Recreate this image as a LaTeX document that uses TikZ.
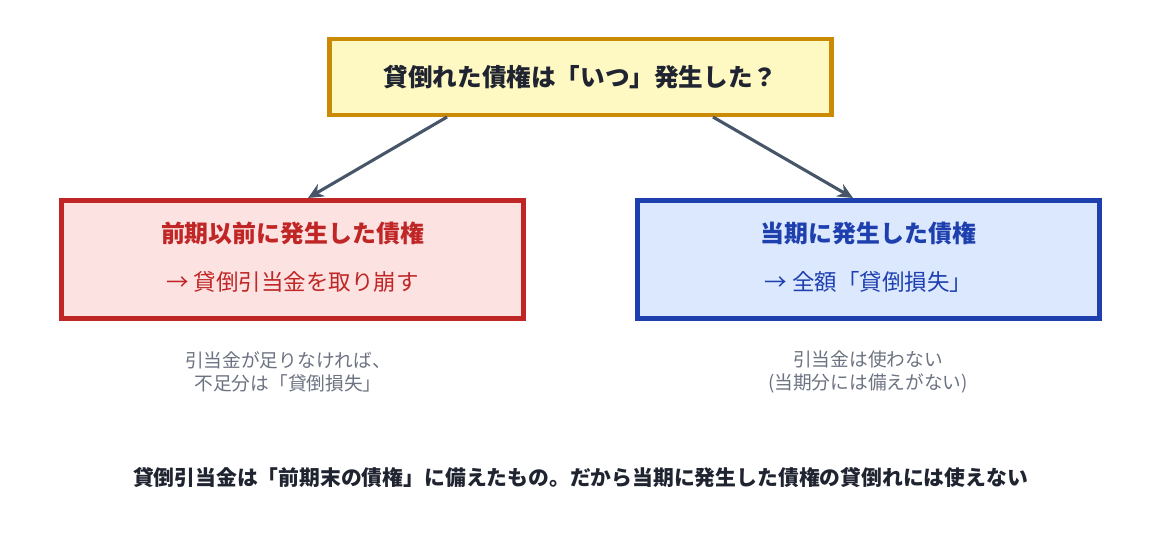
\documentclass[tikz,border=0pt]{standalone}
\usepackage{fontspec}
\setmainfont{Noto Sans CJK JP}
\usetikzlibrary{positioning, arrows.meta}
\definecolor{qfill}{HTML}{FEF9C3}
\definecolor{qline}{HTML}{CA8A04}
\definecolor{pfill}{HTML}{FDE2E2}
\definecolor{pline}{HTML}{C02626}
\definecolor{cfill}{HTML}{DCE8FE}
\definecolor{cline}{HTML}{1E40AF}
\definecolor{arr}{HTML}{475569}
\definecolor{note}{HTML}{6B7280}
\definecolor{ink}{HTML}{1F2430}
\tikzset{
    box/.style={draw, line width=3pt, minimum width=11.55cm, minimum height=2.95cm, align=center, inner sep=0pt}, % the two case boxes
    link/.style={-{Stealth[length=11pt,width=10pt]}, line width=2.2pt, draw=arr},
    remark/.style={text=note, font=\fontsize{13.3}{16.5}\selectfont, align=center},
}
\begin{document}
\begin{tikzpicture}[x=0.025cm, y=-0.025cm]
\useasboundingbox (0,0) rectangle (1161,553);
\node[box, fill=qfill, draw=qline, minimum width=12.55cm, minimum height=1.9cm,
      font=\fontsize{17.5}{20}\selectfont\bfseries, text=ink] (q) at (580.5,77) {貸倒れた債権は「いつ」発生した？};
\node[box, fill=pfill, draw=pline] (past) at (292.5,259.5) {};
\node[box, fill=cfill, draw=cline] (cur) at (868.5,259.5) {};
\node[text=pline, font=\fontsize{17}{20}\selectfont\bfseries] (pastT) at (292.5,233) {前期以前に発生した債権};
\node[text=pline, font=\fontsize{16}{20}\selectfont] (pastS) at (292.5,282) {→ 貸倒引当金を取り崩す};
\node[text=cline, font=\fontsize{17}{20}\selectfont\bfseries] (curT) at (868.5,233) {当期に発生した債権};
\node[text=cline, font=\fontsize{16}{20}\selectfont] (curS) at (868.5,282) {→ 全額「貸倒損失」};
\node[remark] (pastN) at (288,372) {引当金が足りなければ、\\不足分は「貸倒損失」};
\node[remark] (curN) at (868,372) {引当金は使わない\\(当期分には備えがない)};
\node[text=ink, font=\fontsize{14.8}{18}\selectfont\bfseries] (rule) at (580.5,478) {貸倒引当金は「前期末の債権」に備えたもの。だから当期に発生した債権の貸倒れには使えない};
\coordinate (qa) at (447,117);
\coordinate (qb) at (713,117);
\coordinate (pa) at (308,198);
\coordinate (ca) at (853,198);
\draw[link] (qa) -- (pa);
\draw[link] (qb) -- (ca);
\end{tikzpicture}
\end{document}
